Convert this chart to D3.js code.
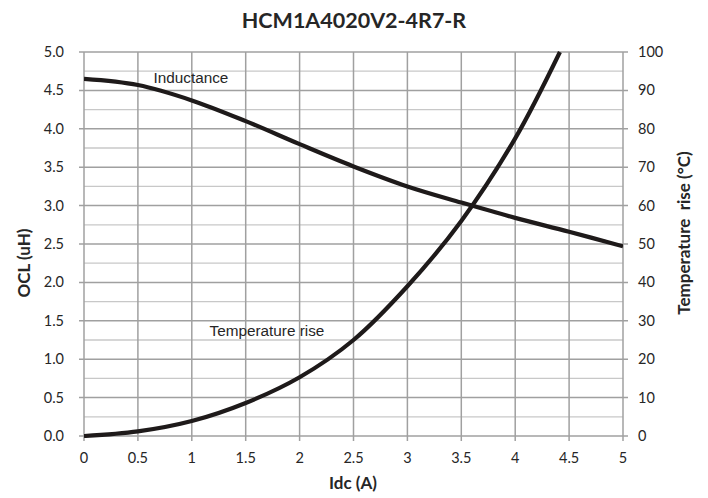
<!DOCTYPE html>
<html><head><meta charset="utf-8">
<script src="https://cdn.jsdelivr.net/npm/d3@7"></script>
<style>body{margin:0;background:#fff}svg{display:block}</style>
</head><body>
<svg id="c" width="708" height="498"></svg>
<script>
const title = "HCM1A4020V2-4R7-R";
const xTicks = [0,0.5,1,1.5,2,2.5,3,3.5,4,4.5,5];
const xTickLabels = ["0","0.5","1","1.5","2","2.5","3","3.5","4","4.5","5"];
const leftTicks = [0,0.5,1,1.5,2,2.5,3,3.5,4,4.5,5];
const leftTickLabels = ["0.0","0.5","1.0","1.5","2.0","2.5","3.0","3.5","4.0","4.5","5.0"];
const rightTicks = [0,10,20,30,40,50,60,70,80,90,100];
const indIdc = [0,0.5,1,1.5,2,2.5,3,3.5,4,4.5,5];
const indOCL = [4.65,4.57,4.37,4.10,3.80,3.51,3.25,3.04,2.84,2.66,2.47];
const tempIdc = [0,0.5,1,1.5,2,2.5,3,3.5,4,4.415];
const tempRise = [0,1.2,3.9,8.6,15.3,25,39,56,77.5,100];

const svg = d3.select("#c");
const L=84,R=623,T=52,B=436;
const x = d3.scaleLinear().domain([0,5]).range([L,R]);
const yL = d3.scaleLinear().domain([0,5]).range([B,T]);
const yR = d3.scaleLinear().domain([0,100]).range([B,T]);
const tickFont = "Lato, 'Open Sans', sans-serif";
const txt = "#262626";

// minor gridlines
svg.append("g").selectAll("line").data(d3.range(0.25,5,0.5)).join("line")
  .attr("x1",L).attr("x2",R).attr("y1",d=>yL(d)).attr("y2",d=>yL(d))
  .attr("stroke","#c8c8c8").attr("stroke-width",1.3);
// major gridlines
svg.append("g").selectAll("line").data(leftTicks).join("line")
  .attr("x1",L-5).attr("x2",R+5).attr("y1",d=>yL(d)).attr("y2",d=>yL(d))
  .attr("stroke","#a0a0a0").attr("stroke-width",1.5);
svg.append("g").selectAll("line").data(xTicks).join("line")
  .attr("x1",d=>x(d)).attr("x2",d=>x(d)).attr("y1",T).attr("y2",B+5)
  .attr("stroke","#a0a0a0").attr("stroke-width",1.5);

// tick labels
svg.append("g").selectAll("text").data(leftTicks).join("text")
  .attr("x",L-20).attr("y",d=>yL(d)).attr("dy","0.35em").attr("text-anchor","end")
  .attr("font-family",tickFont).attr("font-size",14.5).attr("fill",txt)
  .text((d,i)=>leftTickLabels[i]);
svg.append("g").selectAll("text").data(rightTicks).join("text")
  .attr("x",R+15).attr("y",d=>yR(d)).attr("dy","0.35em").attr("text-anchor","start")
  .attr("font-family",tickFont).attr("font-size",14.5).attr("fill",txt)
  .text(d=>d);
svg.append("g").selectAll("text").data(xTicks).join("text")
  .attr("x",d=>x(d)).attr("y",B+27).attr("text-anchor","middle")
  .attr("font-family",tickFont).attr("font-size",14.5).attr("fill",txt)
  .text((d,i)=>xTickLabels[i]);

// clip
svg.append("clipPath").attr("id","clip").append("rect")
  .attr("x",L).attr("y",T-2).attr("width",R-L).attr("height",B-T+4);

const lineInd = d3.line().x(d=>x(d[0])).y(d=>yL(d[1])).curve(d3.curveCatmullRom.alpha(0.5));
const lineTemp = d3.line().x(d=>x(d[0])).y(d=>yR(d[1])).curve(d3.curveCatmullRom.alpha(0.5));
svg.append("path").datum(indIdc.map((v,i)=>[v,indOCL[i]]))
  .attr("d",lineInd).attr("fill","none").attr("stroke","#1e1a1a").attr("stroke-width",4.2)
  .attr("clip-path","url(#clip)");
svg.append("path").datum(tempIdc.map((v,i)=>[v,tempRise[i]]))
  .attr("d",lineTemp).attr("fill","none").attr("stroke","#1e1a1a").attr("stroke-width",4.2)
  .attr("clip-path","url(#clip)");

// curve labels
const lblFont = "'Liberation Sans', Arial, sans-serif";
svg.append("text").attr("x",x(0.645)).attr("y",yL(4.59)).attr("font-family",lblFont)
  .attr("font-size",15.3).attr("fill",txt).text("Inductance");
svg.append("text").attr("x",x(1.165)).attr("y",yL(1.3)).attr("font-family",lblFont)
  .attr("font-size",15.3).attr("fill",txt).text("Temperature rise");

// titles
const boldFont = "Lato, 'Open Sans', sans-serif";
svg.append("text").attr("x",354).attr("y",28).attr("text-anchor","middle")
  .attr("font-family",boldFont).attr("font-weight","bold").attr("font-size",21.5).attr("fill",txt)
  .text(title);
svg.append("text").attr("x",353).attr("y",489).attr("text-anchor","middle")
  .attr("font-family",boldFont).attr("font-weight","bold").attr("font-size",17).attr("fill",txt)
  .text("Idc (A)");
svg.append("text").attr("transform",`translate(30,263) rotate(-90)`).attr("text-anchor","middle")
  .attr("font-family",boldFont).attr("font-weight","bold").attr("font-size",17).attr("fill",txt)
  .text("OCL (uH)");
svg.append("text").attr("transform",`translate(690,233) rotate(-90)`).attr("text-anchor","middle")
  .attr("font-family",boldFont).attr("font-weight","bold").attr("font-size",17).attr("fill",txt)
  .style("white-space","pre")
  .text("Temperature  rise (°C)");
</script>
</body></html>
